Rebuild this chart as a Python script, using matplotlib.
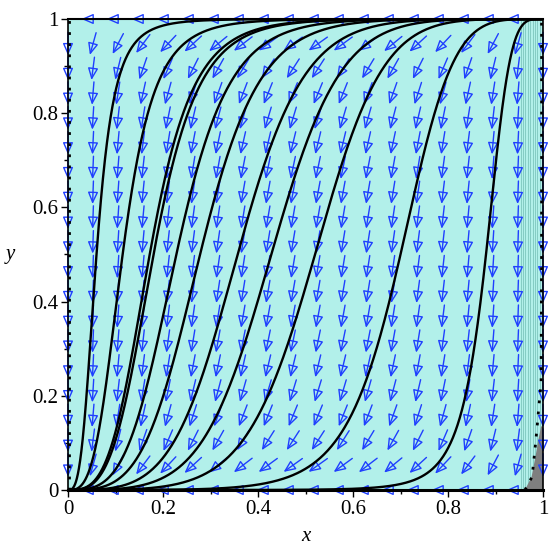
import numpy as np
import matplotlib
matplotlib.use("Agg")
import matplotlib.pyplot as plt
from matplotlib.patches import FancyArrowPatch, Polygon

# ---- data ----
# x where each solution curve crosses y = 0.5
curve_x50 = [0.060, 0.115, 0.172, 0.180, 0.228, 0.278, 0.357, 0.428, 0.52, 0.70, 0.88]
# direction-field grid (20 x 20)
grid_n = 20
# dotted boundary curve near x = 1
dot_x = [0.962, 0.977, 0.983, 0.987, 0.992, 0.996, 0.997, 0.997]
dot_y = [0.000, 0.028, 0.085, 0.127, 0.185, 0.227, 0.500, 1.000]
# grey region
grey_x = [0.962, 0.976, 0.984, 0.990, 0.996, 1.0, 1.0]
grey_y = [0.000, 0.028, 0.070, 0.105, 0.135, 0.135, 0.0]
# faint vertical lines near x = 1
faint_x = [0.953, 0.958, 0.963, 0.968, 0.973, 0.978, 0.983, 0.988, 0.993]
xticks = [0, 0.2, 0.4, 0.6, 0.8, 1]
xtick_labels = ["0", "0.2", "0.4", "0.6", "0.8", "1"]
yticks = [0, 0.2, 0.4, 0.6, 0.8, 1]
ytick_labels = ["0", "0.2", "0.4", "0.6", "0.8", "1"]

plt.rcParams['font.family'] = ['Liberation Serif', 'DejaVu Serif']

fig = plt.figure(figsize=(5.55, 5.55), dpi=100)
ax = fig.add_axes([68/555, 1-490/555, 475/555, 471/555])
ax.set_xlim(0, 1)
ax.set_ylim(0, 1)
ax.set_facecolor('#b2f0ea')

# faint lines
for fx in faint_x:
    ax.plot([fx, fx], [0, 1], color='#84cbc3', lw=0.7, zorder=1)

ax.add_patch(Polygon(np.column_stack([grey_x, grey_y]), closed=True,
                     facecolor='#7f7f7f', edgecolor='none', zorder=1.5))

# direction field
sx, sy = 475.0, 471.0
L = 23.0
g = np.linspace(0, 1, grid_n)
for xi in g:
    for yj in g:
        u = -xi * (1 - xi)
        v = -(3 + 12 * yj * (1 - yj)) * yj * (1 - yj)
        pu, pv = u * sx, v * sy
        n = np.hypot(pu, pv)
        if n < 1e-12:
            continue
        du, dv = pu / n * L / sx, pv / n * L / sy
        a = FancyArrowPatch((xi - du/2, yj - dv/2), (xi + du/2, yj + dv/2),
                            arrowstyle='-|>,head_length=0.55,head_width=0.24',
                            mutation_scale=13, shrinkA=0, shrinkB=0,
                            color='#1f3fff', lw=1.0, fill=False,
                            zorder=2, clip_on=False)
        ax.add_patch(a)

# solution curves: logit(y) = F(logit(x)) - F(logit(x50)),  F(u)=3u+log(1+e^u)
def F(u):
    return 3 * u + np.logaddexp(0, u)

lx = np.linspace(-12, 12, 3000)
xs = 1 / (1 + np.exp(-lx))
for x50 in curve_x50:
    l50 = np.log(x50 / (1 - x50))
    ly = F(lx) - F(l50)
    ys = 1 / (1 + np.exp(-ly))
    ax.plot(xs, ys, color='black', lw=1.7, zorder=3)

ax.plot([0, 1], [0, 0], color='black', lw=2.2, zorder=3, clip_on=False)
ax.plot([0, 1], [1, 1], color='black', lw=1.5, zorder=3, clip_on=False)

# dotted curves
ax.plot(dot_x, dot_y, color='black', lw=2.0, ls=(0, (1, 3)), zorder=4)
ax.plot([0.002, 0.002], [0, 1], color='black', lw=2.0, ls=(0, (1, 3)), zorder=4)

for s in ax.spines.values():
    s.set_linewidth(1.2)

ax.set_xticks(xticks)
ax.set_xticklabels(xtick_labels)
ax.set_yticks(yticks)
ax.set_yticklabels(ytick_labels)
ax.set_xticks(np.arange(0.1, 1.0, 0.2), minor=True)
ax.set_yticks(np.arange(0.1, 1.0, 0.2), minor=True)
ax.tick_params(which='major', direction='out', length=5, width=1, labelsize=15, pad=2)
ax.tick_params(which='minor', direction='out', length=3, width=1)
ax.set_xlabel('x', fontsize=15, style='italic', labelpad=6)
ax.set_ylabel('y', fontsize=15, style='italic', rotation=0, labelpad=16, va='center')

fig.savefig('out.png', dpi=100)
